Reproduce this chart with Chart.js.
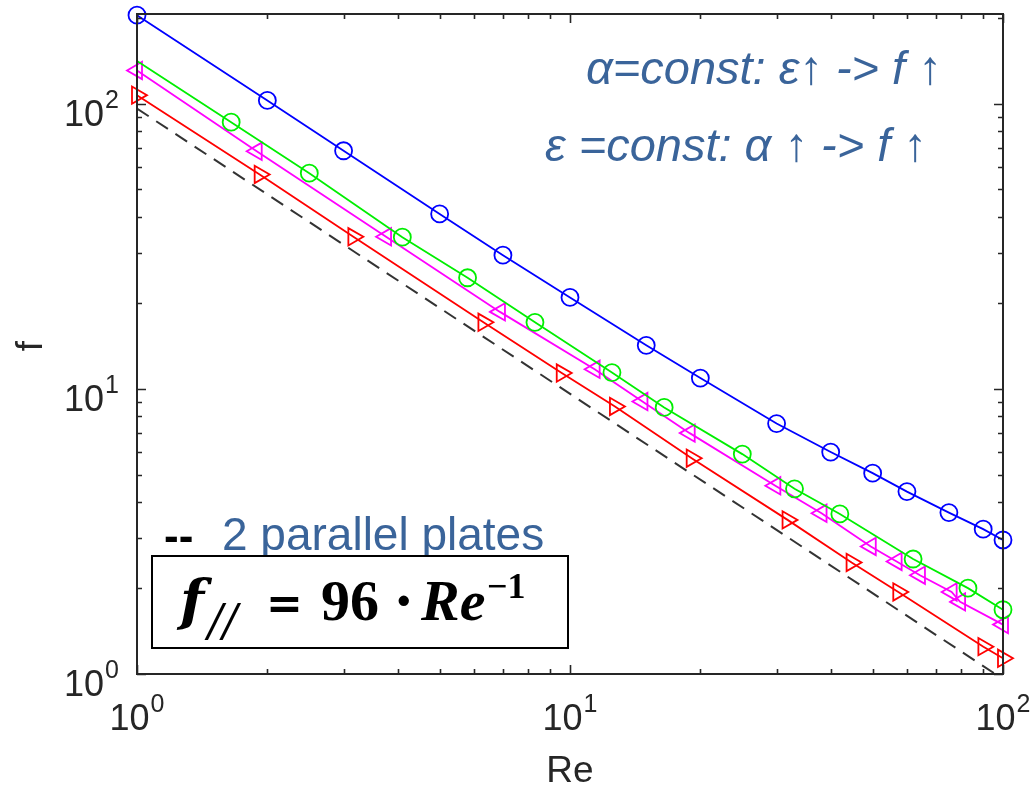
<!DOCTYPE html>
<html>
<head>
<meta charset="utf-8">
<script src="https://cdn.jsdelivr.net/npm/chart.js@4.4.1/dist/chart.umd.min.js"></script>
<style>
  html, body { margin: 0; background: #fff; }
  canvas { display: block; }
</style>
</head>
<body>
<canvas id="chart" width="1031" height="785"></canvas>
<script>
// values (Re on x, f on y, both log)
const blueRe = [1, 2, 3, 5, 7, 10, 15, 20, 30, 40, 50, 60, 75, 90, 100];
const blueF = [204, 102.5, 68.3, 41, 29.4, 20.9, 14.2, 10.9, 7.55, 6.0, 5.06, 4.36, 3.68, 3.22, 2.95];

const greenRe = [1, 1.65, 2.5, 4.1, 5.8, 8.3, 12.5, 16.5, 25, 33, 42, 62, 83, 100];
const greenF = [141, 86, 57, 34, 24.5, 17.1, 11.4, 8.6, 5.9, 4.46, 3.64, 2.53, 2.0, 1.68];

const magentaRe = [1, 1.89, 3.76, 6.89, 11.4, 14.7, 18.9, 29.8, 38.1, 49.5, 56.8, 64.3, 76.1, 79.6, 100];
const magentaF = [130.6, 68.0, 34.1, 18.6, 11.7, 9.02, 6.99, 4.57, 3.66, 2.8, 2.48, 2.22, 1.94, 1.79, 1.49];

const redRe = [1, 1.92, 3.16, 6.31, 9.57, 12.7, 19.1, 31.8, 44.7, 57.3, 90.1, 100];
const redF = [107, 56.4, 34.1, 17.1, 11.35, 8.67, 5.71, 3.47, 2.46, 1.94, 1.247, 1.135];

const plateRe = [1, 100];
const plateF = [96, 0.96];

const xRange = [1, 100];
const yRange = [1, 206];
const xExponents = ['0', '1', '2'];
const yExponents = ['0', '1', '2'];

const xTitle = 'Re';
const yTitle = 'f';
const noteLine1 = 'α=const: ε↑ -> f ↑';
const noteLine2 = 'ε =const: α ↑ -> f ↑';
const plateLabel = '2 parallel plates';

const noteBlue = '#3a649a';
const axisGrey = '#262626';

const pts = (xs, ys) => xs.map((x, i) => ({ x, y: ys[i] }));

function series(label, xs, ys, color, style, rotation) {
  return {
    label,
    data: pts(xs, ys),
    borderColor: color,
    backgroundColor: 'rgba(0,0,0,0)',
    borderWidth: 1.8,
    pointStyle: style,
    pointRotation: rotation,
    pointRadius: style === 'circle' ? 8.5 : 10,
    pointBorderWidth: 1.8,
    pointBorderColor: color,
    pointBackgroundColor: 'rgba(0,0,0,0)',
    tension: 0,
    clip: false,
  };
}

function minorValues(range) {
  const out = [];
  for (let d = 1; d < range[1]; d *= 10) {
    for (let m = 1; m <= 9; m++) {
      const v = d * m;
      if (v >= range[0] && v <= range[1]) out.push({ v, major: m === 1 });
    }
  }
  if (Number.isInteger(Math.log10(range[1]))) out.push({ v: range[1], major: true });
  return out;
}

const matlabAxes = {
  id: 'matlabAxes',
  afterDatasetsDraw(chart) {
    const { ctx, chartArea: a, scales: { x, y } } = chart;
    ctx.save();
    ctx.strokeStyle = axisGrey;
    ctx.lineWidth = 1.6;
    ctx.beginPath();
    for (const t of minorValues(xRange)) {
      const px = Math.round(x.getPixelForValue(t.v)) + 0.5;
      const len = t.major ? 9 : 5;
      ctx.moveTo(px, a.bottom); ctx.lineTo(px, a.bottom - len);
      ctx.moveTo(px, a.top); ctx.lineTo(px, a.top + len);
    }
    for (const t of minorValues(yRange)) {
      const py = Math.round(y.getPixelForValue(t.v)) + 0.5;
      const len = t.major ? 9 : 5;
      ctx.moveTo(a.left, py); ctx.lineTo(a.left + len, py);
      ctx.moveTo(a.right, py); ctx.lineTo(a.right - len, py);
    }
    ctx.stroke();
    ctx.lineWidth = 2;
    ctx.strokeRect(a.left, a.top, a.right - a.left, a.bottom - a.top);

    // decade labels 10^n
    ctx.fillStyle = axisGrey;
    ctx.textBaseline = 'alphabetic';
    const big = '36px "Liberation Sans", Arial, sans-serif';
    const small = '25px "Liberation Sans", Arial, sans-serif';
    xExponents.forEach((e) => {
      const px = x.getPixelForValue(Math.pow(10, +e));
      ctx.font = big; const w1 = ctx.measureText('10').width;
      ctx.font = small; const w2 = ctx.measureText(e).width;
      const left = px - (w1 + w2 + 1) / 2;
      ctx.textAlign = 'left';
      ctx.font = big; ctx.fillText('10', left, 730);
      ctx.font = small; ctx.fillText(e, left + w1 + 1, 712);
    });
    yExponents.forEach((e) => {
      const py = y.getPixelForValue(Math.pow(10, +e));
      ctx.font = small; const w2 = ctx.measureText(e).width;
      const right = a.left - 18;
      ctx.textAlign = 'right';
      ctx.fillText(e, right, py + 4);
      ctx.font = big; ctx.fillText('10', right - w2 - 1, py + 22);
    });

    ctx.font = '37px "Liberation Sans", Arial, sans-serif';
    ctx.textAlign = 'center';
    ctx.fillText(xTitle, (a.left + a.right) / 2, 782);
    ctx.save();
    ctx.translate(42, (a.top + a.bottom) / 2 + 2);
    ctx.rotate(-Math.PI / 2);
    ctx.fillText(yTitle, 0, 0);
    ctx.restore();

    // notes
    ctx.textAlign = 'left';
    ctx.fillStyle = noteBlue;
    ctx.font = 'italic 47px "Liberation Sans", Arial, sans-serif';
    ctx.fillText(noteLine1, 586, 84);
    ctx.fillText(noteLine2, 545, 161);

    ctx.font = '46px "Liberation Sans", Arial, sans-serif';
    ctx.fillText(plateLabel, 222, 550);
    ctx.fillStyle = '#000';
    ctx.font = 'bold 44px "Liberation Sans", Arial, sans-serif';
    ctx.fillText('--', 164, 551);

    // formula box
    ctx.fillStyle = '#fff';
    ctx.fillRect(152, 556, 416, 92);
    ctx.strokeStyle = '#000';
    ctx.lineWidth = 2;
    ctx.strokeRect(152, 556, 416, 92);
    ctx.fillStyle = '#000';
    const serif = '"DejaVu Serif", "Liberation Serif", serif';
    const times = '"Liberation Serif", "DejaVu Serif", serif';
    const sans = '"DejaVu Sans", sans-serif';
    const runs = [
      ['f', 'bold italic 56px ' + serif, 180, 620],
      ['//', 'italic 44px ' + serif, 208, 636],
      ['=', 'bold 44px ' + sans, 266, 618],
      ['96', 'bold 58px ' + times, 321, 620],
      ['·', 'bold 56px ' + serif, 394, 620],
      ['Re', 'bold italic 58px ' + times, 421, 620],
      ['−1', 'bold 36px ' + times, 487, 598],
    ];
    for (const [t, f, rx, ry] of runs) {
      ctx.font = f;
      ctx.fillText(t, rx, ry);
    }
    ctx.restore();
  },
};

new Chart(document.getElementById('chart'), {
  type: 'line',
  data: {
    datasets: [
      series('blue', blueRe, blueF, '#0000ff', 'circle', 0),
      Object.assign(series('green', greenRe, greenF, '#00ee00', 'circle', 0), {
        pointRadius: (c) => (c.dataIndex === 0 ? 0 : 8.5),
      }),
      series('magenta', magentaRe, magentaF, '#ff00ff', 'triangle', -90),
      series('red', redRe, redF, '#ff0000', 'triangle', 90),
      {
        label: 'parallel plates',
        data: pts(plateRe, plateF),
        borderColor: '#333333',
        borderWidth: 2,
        borderDash: [14, 9],
        pointRadius: 0,
        fill: false,
      },
    ],
  },
  options: {
    responsive: false,
    animation: false,
    layout: { padding: { left: 137, top: 14, right: 28, bottom: 111 } },
    plugins: { legend: { display: false }, tooltip: { enabled: false } },
    scales: {
      x: { type: 'logarithmic', min: xRange[0], max: xRange[1], display: false },
      y: { type: 'logarithmic', min: yRange[0], max: yRange[1], display: false },
    },
  },
  plugins: [matlabAxes],
});
</script>
</body>
</html>
